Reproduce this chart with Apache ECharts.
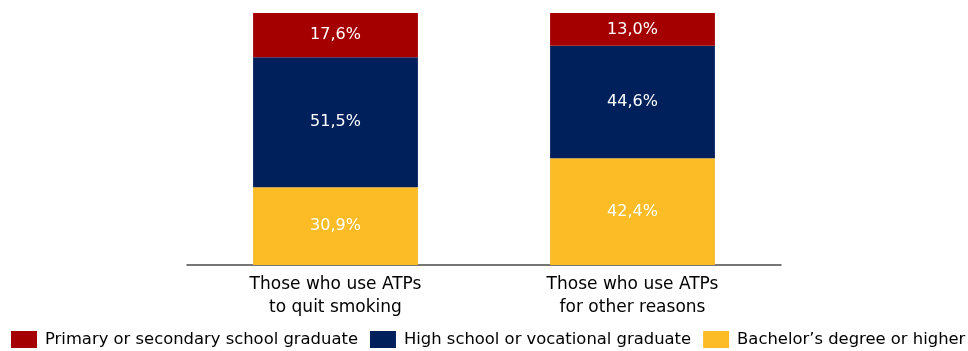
<!DOCTYPE html>
<html>
<head>
<meta charset="utf-8">
<script src="https://cdn.jsdelivr.net/npm/echarts@6/dist/echarts.min.js"></script>
<style>
  html, body { margin: 0; padding: 0; background: #fff; }
  #chart { width: 968px; height: 351px; }
</style>
</head>
<body>
<div id="chart"></div>
<script>
// Education level of ATP users, share of each group (%)
const categories = ['Those who use ATPs\nto quit smoking', 'Those who use ATPs\nfor other reasons'];
const seriesNames = ['Primary or secondary school graduate', 'High school or vocational graduate', 'Bachelor\u2019s degree or higher'];
const primaryValues = [17.6, 13.0];
const highSchoolValues = [51.5, 44.6];
const bachelorValues = [30.9, 42.4];

const colors = { primary: '#A50000', high: '#00205C', bachelor: '#FBBC26' };
const FONT = 'DejaVu Sans';

const fmt = p => p.value.toFixed(1).replace('.', ',') + '%';
const label = { show: true, position: 'inside', color: '#fff', fontSize: 16, fontFamily: FONT, formatter: fmt };

const chart = echarts.init(document.getElementById('chart'), null, { renderer: 'canvas' });
chart.setOption({
  animation: false,
  grid: { left: 187, right: 187, top: 13, bottom: 86 },
  legend: {
    data: seriesNames,
    left: 11, top: 331, width: 957,
    padding: 0,
    itemWidth: 26, itemHeight: 17, itemGap: 12,
    icon: 'rect',
    textStyle: { fontFamily: FONT, fontSize: 16.4, color: '#000', padding: [0, 0, 0, 3] }
  },
  xAxis: {
    type: 'category',
    data: categories,
    axisTick: { show: false },
    axisLine: { lineStyle: { color: '#4a4a4a', width: 1.5 } },
    axisLabel: { fontFamily: FONT, fontSize: 17, color: '#000', lineHeight: 23, margin: 8 }
  },
  yAxis: { type: 'value', min: 0, max: 100, show: false },
  series: [
    { name: seriesNames[2], type: 'bar', stack: 'all', data: bachelorValues, barWidth: '55.5%',
      itemStyle: { color: colors.bachelor }, label },
    { name: seriesNames[1], type: 'bar', stack: 'all', data: highSchoolValues,
      itemStyle: { color: colors.high }, label },
    { name: seriesNames[0], type: 'bar', stack: 'all', data: primaryValues,
      itemStyle: { color: colors.primary }, label }
  ]
});
</script>
</body>
</html>
